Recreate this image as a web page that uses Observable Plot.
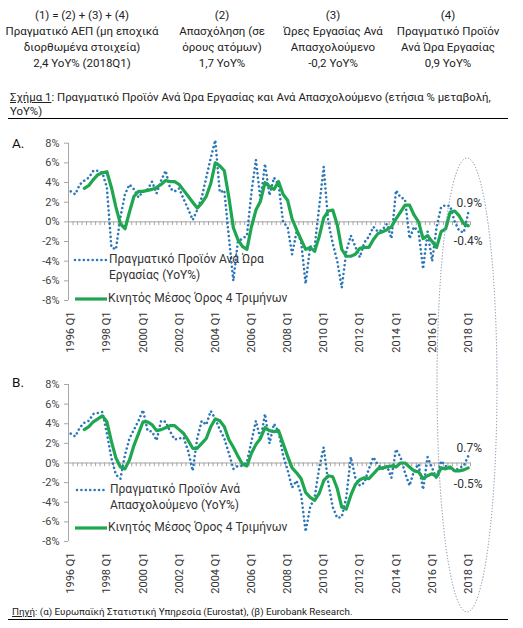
<!DOCTYPE html>
<html>
<head>
<meta charset="utf-8">
<script src="https://cdn.jsdelivr.net/npm/d3@7"></script>
<script src="https://cdn.jsdelivr.net/npm/@observablehq/plot@0.6"></script>
<style>
  body { margin: 0; background: #fff; }
  #root { position: relative; width: 523px; height: 628px; overflow: hidden; font-family: Roboto, "Noto Sans", sans-serif; color: #222; }
  .abs { position: absolute; }
  .col { position: absolute; top: 7px; width: 170px; text-align: center; font-size: 11.5px; line-height: 16px; color: #222; }
  .leg { position: absolute; font-size: 12px; line-height: 15.5px; color: #333; white-space: nowrap; }
  .panel svg g[aria-label^="y-axis"] line, .panel svg g[aria-label^="y-axis"] path { stroke: #a6a6a6; }
</style>
</head>
<body>
<div id="root">
  <div class="col" style="left:-3px">(1) = (2) + (3) + (4)<br>Πραγματικό ΑΕΠ (μη εποχικά<br>διορθωμένα στοιχεία)<br>2,4 YoY% (2018Q1)</div>
  <div class="col" style="left:137px">(2)<br>Απασχόληση (σε<br>όρους ατόμων)<br>1,7 YoY%</div>
  <div class="col" style="left:248px">(3)<br>Ώρες Εργασίας Ανά<br>Απασχολούμενο<br>-0,2 YoY%</div>
  <div class="col" style="left:363px">(4)<br>Πραγματικό Προϊόν<br>Ανά Ώρα Εργασίας<br>0,9 YoY%</div>
  <div class="abs" style="left:10px;top:90px;font-size:11.4px;line-height:14px;color:#222;white-space:nowrap"><u>Σχήμα 1</u>: Πραγματικό Προϊόν Ανά Ώρα Εργασίας και Ανά Απασχολούμενο (ετήσια % μεταβολή,<br>YoY%)</div>
  <div class="abs" style="left:8px;top:118px;width:500px;height:1.2px;background:#000"></div>
  <div class="abs" style="left:12px;top:135px;font-size:13.5px;color:#111">A.</div>
  <div class="abs" style="left:12px;top:374px;font-size:13.5px;color:#111">B.</div>
  <div id="pA" class="abs panel" style="left:0;top:128px"></div>
  <div id="pB" class="abs panel" style="left:0;top:370px"></div>

  <svg class="abs" style="left:0;top:0" width="523" height="628" id="legsvg"></svg>
  <div class="leg" style="left:109px;top:252px">Πραγματικό Προϊόν Ανά Ώρα<br>Εργασίας (YoY%)</div>
  <div class="leg" style="left:108px;top:291px">Κινητός Μέσος Όρος 4 Τριμήνων</div>
  <div class="leg" style="left:110px;top:482px">Πραγματικό Προϊόν Ανά<br>Απασχολούμενο (YoY%)</div>
  <div class="leg" style="left:108px;top:520px">Κινητός Μέσος Όρος 4 Τριμήνων</div>

  <div class="abs" style="left:12px;top:606px;font-size:9.8px;color:#222;white-space:nowrap"><u>Πηγή</u>: (α) Ευρωπαϊκή Στατιστική Υπηρεσία (Eurostat), (β) Eurobank Research.</div>
  <div class="abs" style="left:8px;top:619px;width:500px;height:1.2px;background:#000"></div>
</div>
<script>
// ---- categories (quarters 1996 Q1 .. 2018 Q1) ----
const years = d3.range(1996, 2019);
const quarterNames = ["Q1", "Q2", "Q3", "Q4"];
const quarters = years.flatMap(y => quarterNames.map(q => `${y} ${q}`)).slice(0, 89);
const tickLabels = ["1996 Q1","1998 Q1","2000 Q1","2002 Q1","2004 Q1","2006 Q1","2008 Q1","2010 Q1","2012 Q1","2014 Q1","2016 Q1","2018 Q1"];
const yTicks = [-8, -6, -4, -2, 0, 2, 4, 6, 8];

// ---- Panel A: real output per hour worked (YoY%) ----
const perHour = [
  3.1, 2.8, 3.8, 4.2, 4.5, 5.2, 5.2, 5.0, 3.5, -2.6,
  -2.8, 0.5, 2.8, 3.8, 3.3, 2.5, 3.1, 3.3, 4.1, 2.9,
  4.2, 5.2, 3.4, 3.1, 3.4, 2.3, 1.3, 0.2, 1.2, 2.5,
  4.5, 6.5, 8.3, 3.0, 3.2, -1.5, -6.0, -2.0, -1.7, -1.4,
  3.0, 6.3, 2.2, 5.9, 2.7, 4.5, 3.8, 0.0, -0.5, -3.3,
  -1.0, -2.0, -6.3, -2.5, -2.5, 1.5, 5.6, 0.0, -2.2, -4.0,
  -6.7, -3.0, -1.4, -2.5, -3.6, -2.1, -1.5, -0.5, -1.0, -0.8,
  -0.2, -1.7, 3.2, 2.5, 2.3, -1.7, -0.5, -1.0, -4.8, -1.0,
  -4.0, -0.5, 1.5, 1.7, 1.6, 0.0, -0.9, -1.1, 0.9
];
const perHourMA = [
  null, null, null, 3.4, 3.7, 4.3, 4.8, 5.0, 5.1, 3.5,
  1.5, -0.2, -0.7, 1.0, 2.6, 3.1, 3.1, 3.2, 3.3, 3.5,
  3.8, 4.2, 4.1, 4.1, 3.8, 3.2, 2.6, 2.0, 1.4, 1.9,
  2.6, 3.9, 6.0, 5.7, 5.2, 2.5, -0.6, -1.8, -2.5, -2.8,
  -0.5, 1.2, 2.1, 4.0, 3.6, 3.3, 4.1, 2.8, 2.2, 0.3,
  -0.8, -1.8, -2.8, -2.6, -3.0, -1.5, 0.4, 1.1, 1.2, -0.3,
  -2.8, -3.5, -3.5, -3.3, -2.7, -2.6, -2.6, -1.8, -1.2, -1.0,
  -0.8, -0.5, 0.3, 1.0, 1.7, 1.7, 0.7, 0.0, -1.7, -1.4,
  -2.0, -2.6, -1.0, -0.7, 1.0, 1.1, 0.6, -0.2, -0.4
];

// ---- Panel B: real output per employed person (YoY%) ----
const perEmployed = [
  3.0, 2.7, 3.6, 4.1, 4.3, 5.0, 5.1, 5.2, 3.0, 0.5,
  -1.2, -1.6, 0.8, 2.5, 3.4, 4.3, 5.4, 3.3, 3.2, 2.3,
  4.3, 4.2, 3.2, 2.4, 2.5, 2.6, 1.2, -0.8, 2.5, 4.3,
  3.9, 5.3, 4.5, 3.4, 2.5, 1.0, -0.6, -0.3, -0.3, 0.1,
  2.2, 4.3, 2.4, 5.0, 2.0, 4.0, 3.2, 0.8, -0.7, -2.5,
  -1.8, -3.2, -7.0, -4.5, -3.5, -0.5, 1.6, -2.0, -4.5, -5.6,
  -5.5, -3.5, 0.6, -1.5, -2.3, -2.0, -0.6, 0.6, -0.2, -0.6,
  -0.3, -1.5, 1.4, 0.6, -1.0, -2.3, -0.8, -0.1, -2.7, 0.6,
  -0.5, -1.6, 0.2, -0.3, -0.6, -0.8, -0.5, -0.3, 0.7
];
const perEmployedMA = [
  null, null, null, 3.4, 3.7, 4.2, 4.5, 4.8, 4.2, 2.2,
  0.5, -0.4, -0.6, 0.3, 1.8, 3.0, 4.2, 4.2, 3.9, 3.3,
  3.4, 3.6, 3.8, 3.8, 3.4, 3.0, 2.3, 1.5, 1.5, 2.0,
  2.5, 3.7, 4.5, 4.3, 3.7, 2.4, 1.6, 0.7, -0.1, -0.3,
  1.0, 1.9, 2.5, 3.6, 3.3, 3.2, 3.3, 2.0, 0.7, -0.5,
  -1.0, -1.6, -3.0, -3.5, -3.8, -3.1, -1.8, -1.3, -1.4, -2.6,
  -4.5, -4.7, -3.3, -2.2, -1.7, -1.5, -1.6, -1.1, -0.6, -0.5,
  -0.4, -0.3, -0.4, 0.0, 0.0, -0.4, -0.8, -0.9, -1.6, -1.3,
  -1.1, -1.4, -0.5, -0.6, -0.4, -0.8, -0.8, -0.7, -0.5
];

const BLUE = "#2b77b7";
const GREEN = "#1ea650";
const GRID = "#a6a6a6";
const fmtPct = v => `${v}%`;
const fmtEnd = v => `${v.toFixed(1)}%`;

function panel({dotted, ma, marginTop, marginBottom, dyTop, dyBottom, labelDy}) {
  const rows = quarters.map((q, i) => ({i, q, d: dotted[i], m: ma[i]}));
  const last = rows[rows.length - 1];
  const boundaries = d3.range(-0.5, quarters.length, 1);
  return Plot.plot({
    width: 523, height: 232,
    marginLeft: 68, marginRight: 53, marginTop, marginBottom,
    x: {type: "linear", domain: [-0.5, quarters.length - 0.5], axis: null},
    y: {domain: [-8, 8], ticks: yTicks, tickFormat: fmtPct, tickSize: 4, tickPadding: 5, label: null},
    style: {fontFamily: "Roboto, 'Noto Sans', sans-serif", fontSize: "11px", color: "#444", background: "none", overflow: "visible"},
    marks: [
      Plot.ruleX([-0.5], {y1: -8, y2: 8, stroke: GRID, strokeWidth: 1}),
      Plot.ruleY([0], {stroke: GRID, strokeWidth: 1}),
      Plot.ruleX(boundaries, {y1: 0, y2: -0.38, stroke: GRID, strokeWidth: 1}),
      Plot.line(rows, {x: "i", y: "d", stroke: BLUE, strokeWidth: 2.6, strokeDasharray: "0.01 4.4", strokeLinecap: "round"}),
      Plot.line(rows.filter(r => r.m != null), {x: "i", y: "m", stroke: GREEN, strokeWidth: 3.2, strokeLinejoin: "round"}),
      Plot.text(tickLabels, {x: d => quarters.indexOf(d), frameAnchor: "bottom", dy: labelDy, rotate: -90, textAnchor: "end", lineAnchor: "middle", text: d => d, fill: "#333", fontSize: 11}),
      Plot.text([last], {x: "i", y: "d", text: r => fmtEnd(r.d), dx: 1, dy: dyTop, fill: "#333", fontSize: 12}),
      Plot.text([last], {x: "i", y: "m", text: r => fmtEnd(r.m), dx: 0, dy: dyBottom, fill: "#333", fontSize: 12})
    ]
  });
}

document.getElementById("pA").append(panel({dotted: perHour, ma: perHourMA, marginTop: 14.7, marginBottom: 60, dyTop: -10, dyBottom: 15, labelDy: 11}));
document.getElementById("pB").append(panel({dotted: perEmployed, ma: perEmployedMA, marginTop: 14, marginBottom: 61, dyTop: -7.5, dyBottom: 16, labelDy: 11}));

// legend samples and highlight ellipse (annotation overlay)
const ns = "http://www.w3.org/2000/svg";
const leg = d3.select("#legsvg").style("pointer-events", "none");
const legendRows = [
  {y: 260, kind: "dot", x1: 75, x2: 106},
  {y: 299, kind: "line", x1: 75, x2: 107},
  {y: 490, kind: "dot", x1: 77, x2: 106},
  {y: 528, kind: "line", x1: 75, x2: 107}
];
for (const r of legendRows) {
  const l = leg.append("line").attr("x1", r.x1).attr("x2", r.x2).attr("y1", r.y).attr("y2", r.y);
  if (r.kind === "dot") l.attr("stroke", BLUE).attr("stroke-width", 2.6).attr("stroke-dasharray", "0.01 4.4").attr("stroke-linecap", "round");
  else l.attr("stroke", GREEN).attr("stroke-width", 3.2);
}
leg.append("ellipse").attr("cx", 467).attr("cy", 385).attr("rx", 30).attr("ry", 227)
  .attr("fill", "none").attr("stroke", "#7a86a8").attr("stroke-width", 1).attr("stroke-dasharray", "1.2 1.8");
</script>
</body>
</html>
